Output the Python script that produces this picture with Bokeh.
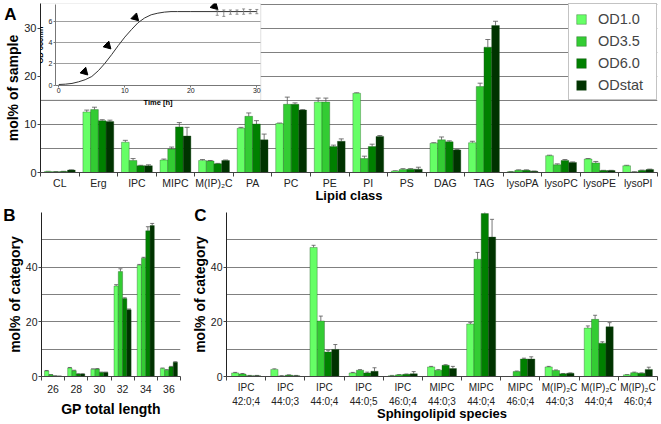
from bokeh.plotting import figure
from bokeh.layouts import column, row
from bokeh.models import (Range1d, FixedTicker, LinearAxis, Legend, LegendItem,
                          Whisker, TeeHead, ColumnDataSource, BoxAnnotation, Grid)
from bokeh.core.properties import value
from bokeh.embed import file_html
from bokeh.resources import INLINE

FONT = "Liberation Sans"

# ---------------- data ----------------
series_names = ["OD1.0", "OD3.5", "OD6.0", "ODstat"]
series_colors = ["#66ff66", "#33cc33", "#008000", "#003300"]

lipid_classes = ["CL", "Erg", "IPC", "MIPC", "M(IP)\u2082C", "PA", "PC", "PE", "PI", "PS",
                 "DAG", "TAG", "lysoPA", "lysoPC", "lysoPE", "lysoPI"]
lipid_od10 = [0.2, 12.6, 6.3, 2.6, 2.5, 9.2, 10.2, 14.7, 16.5, 0.3, 6.1, 6.2, 0.15, 3.5, 2.8, 1.4]
lipid_od35 = [0.15, 13.1, 2.5, 4.9, 2.4, 11.7, 14.2, 14.7, 2.9, 0.6, 6.8, 17.9, 0.45, 1.6, 2.0, 0.1]
lipid_od60 = [0.2, 10.8, 1.4, 9.5, 1.8, 10.1, 14.2, 5.4, 5.4, 0.7, 6.4, 26.1, 0.45, 2.5, 0.4, 0.4]
lipid_odst = [0.5, 10.6, 1.4, 7.6, 2.5, 6.8, 13.0, 6.5, 7.5, 0.7, 4.7, 30.6, 0.25, 2.1, 0.4, 0.6]
lipid_err10 = [0.05, 0.4, 0.4, 0.2, 0.2, 0.2, 0.1, 0.8, 0.1, 0.05, 0.1, 0.3, 0.05, 0.1, 0.1, 0.1]
lipid_err35 = [0.05, 0.5, 0.4, 0.4, 0.1, 0.7, 1.5, 0.8, 0.5, 0.2, 0.6, 0.7, 0.1, 0.2, 0.3, 0.05]
lipid_err60 = [0.05, 0.2, 0.1, 0.9, 0.1, 0.7, 0.3, 0.3, 0.5, 0.1, 0.2, 1.6, 0.1, 0.2, 0.05, 0.1]
lipid_errst = [0.05, 0.3, 0.2, 1.8, 0.1, 1.2, 0.1, 0.5, 0.2, 0.4, 0.1, 0.9, 0.05, 0.1, 0.05, 0.1]

gp_lengths = ["26", "28", "30", "32", "34", "36"]
gp_od10 = [2.0, 3.1, 2.6, 33.1, 40.7, 2.9]
gp_od35 = [0.6, 2.1, 2.7, 38.4, 43.3, 2.3]
gp_od60 = [0.2, 0.9, 1.5, 28.5, 53.3, 3.5]
gp_odst = [0.1, 0.9, 1.5, 24.4, 55.2, 5.2]
gp_err10 = [0.2, 0.2, 0.2, 0.5, 0.3, 0.2]
gp_err35 = [0.1, 0.2, 0.2, 1.0, 0.3, 0.2]
gp_err60 = [0.05, 0.1, 0.1, 0.3, 1.5, 0.2]
gp_errst = [0.05, 0.1, 0.1, 0.3, 0.8, 0.2]

sl_species = ["IPC\n42:0;4", "IPC\n44:0;3", "IPC\n44:0;4", "IPC\n44:0;5", "IPC\n46:0;4",
              "MIPC\n44:0;3", "MIPC\n44:0;4", "MIPC\n46:0;4",
              "M(IP)\u2082C\n44:0;3", "M(IP)\u2082C\n44:0;4", "M(IP)\u2082C\n46:0;4"]
sl_od10 = [1.3, 2.6, 47.2, 1.3, 0.3, 3.5, 19.2, 0.0, 3.5, 17.7, 0.6]
sl_od35 = [0.9, 0.2, 20.3, 2.3, 0.6, 2.3, 42.9, 1.8, 2.2, 20.9, 1.4]
sl_od60 = [0.3, 0.5, 9.0, 1.3, 0.8, 4.1, 59.6, 6.4, 1.0, 12.2, 1.2]
sl_odst = [0.3, 0.3, 9.9, 1.9, 1.0, 2.9, 51.0, 6.4, 1.2, 18.2, 2.6]
sl_err10 = [0.2, 0.2, 0.8, 0.2, 0.1, 0.2, 0.5, 0.0, 0.2, 0.8, 0.1]
sl_err35 = [0.2, 0.1, 1.8, 0.2, 0.1, 0.2, 2.5, 0.2, 0.2, 1.5, 0.2]
sl_err60 = [0.1, 0.1, 0.6, 0.3, 0.1, 0.2, 1.0, 0.3, 0.1, 0.5, 0.1]
sl_errst = [0.1, 0.1, 1.8, 1.3, 0.8, 0.8, 6.5, 0.8, 0.1, 1.5, 0.8]

# growth curve (inset)
growth_time = [0, 1, 2, 3, 4, 5, 6, 7, 8, 9, 10, 11, 12, 13, 14, 15, 16, 17, 18, 20, 22, 24, 26, 28, 30]
growth_od = [0.05, 0.08, 0.15, 0.3, 0.5, 0.8, 1.35, 2.05, 2.85, 3.7, 4.5, 5.2, 5.85, 6.3, 6.6,
             6.75, 6.85, 6.9, 6.9, 6.9, 6.9, 6.9, 6.9, 6.9, 6.9]
stat_time = [24, 25, 26, 27, 28, 29, 30]
stat_od = [6.8, 6.75, 6.85, 6.85, 6.9, 6.9, 6.9]
stat_err = [0.25, 0.3, 0.2, 0.2, 0.25, 0.2, 0.2]
harvest_time = [3.9, 7.4, 11.6, 23.6]
harvest_od = [1.25, 3.7, 6.35, 7.4]
inset_xticks = [0, 10, 20, 30]
inset_yticks = [0, 2, 4, 6]
inset_grid = [2, 4, 6]

GRID = "#808080"
AX = "#444444"


def make_panel(width, height, labels, ymax, yticks, gridticks, borders,
               xtick_fs, ytick_fs, xtitle, ytitle, xtitle_fs, ytitle_fs,
               xs, xt, ys, yt, x_line_height=1.2):
    n = len(labels)
    p = figure(width=width, height=height, x_range=Range1d(-0.5, n - 0.5),
               y_range=Range1d(0, ymax), output_backend="svg", toolbar_location=None,
               min_border_left=borders[0], min_border_right=borders[1],
               min_border_top=borders[2], min_border_bottom=borders[3])
    p.outline_line_color = None
    p.xgrid.visible = False
    p.ygrid.ticker = FixedTicker(ticks=gridticks)
    p.ygrid.grid_line_color = GRID
    p.ygrid.grid_line_width = 1
    xa = p.xaxis[0]
    centers = list(range(n))
    xa.ticker = FixedTicker(ticks=centers, minor_ticks=[c - 0.5 for c in range(n + 1)])
    xa.major_label_overrides = {c: lab for c, lab in zip(centers, labels)}
    xa.major_tick_line_color = None
    xa.major_tick_out = 0
    xa.major_tick_in = 0
    xa.minor_tick_out = 4
    xa.minor_tick_in = 0
    xa.minor_tick_line_color = AX
    xa.axis_line_color = AX
    xa.major_label_text_font = FONT
    xa.major_label_text_font_size = xtick_fs
    xa.major_label_text_line_height = x_line_height
    xa.major_label_text_color = "#222222"
    xa.major_label_standoff = xs
    xa.axis_label = xtitle
    xa.axis_label_text_font = FONT
    xa.axis_label_text_font_style = "bold"
    xa.axis_label_text_font_size = xtitle_fs
    xa.axis_label_text_color = "black"
    xa.axis_label_standoff = xt
    ya = p.yaxis[0]
    ya.ticker = FixedTicker(ticks=yticks)
    ya.minor_tick_line_color = None
    ya.major_tick_out = 3
    ya.major_tick_in = 0
    ya.major_tick_line_color = AX
    ya.axis_line_color = "#222222"
    ya.major_label_text_font = FONT
    ya.major_label_text_font_size = ytick_fs
    ya.major_label_text_color = "#222222"
    ya.major_label_standoff = ys
    ya.axis_label = ytitle
    ya.axis_label_text_font = FONT
    ya.axis_label_text_font_style = "bold"
    ya.axis_label_text_font_size = ytitle_fs
    ya.axis_label_text_color = "black"
    ya.axis_label_standoff = yt
    return p


def add_bars(p, groups, errs, width, head):
    n = len(groups[0])
    rs = []
    for k, (vals, err) in enumerate(zip(groups, errs)):
        xs = [i + (k - 1.5) * width for i in range(n)]
        src = ColumnDataSource(dict(x=xs, top=vals,
                                    upper=[v + e for v, e in zip(vals, err)],
                                    lower=list(vals)))
        w = Whisker(base="x", upper="upper", lower="lower", source=src,
                    line_color="#555555", line_width=0.8, lower_head=None,
                    upper_head=TeeHead(size=head, line_color="#555555", line_width=0.8))
        p.add_layout(w)
        r = p.vbar(x="x", top="top", bottom=0, width=width, source=src,
                   fill_color=series_colors[k], line_color="#1f4f1f", line_width=0.5,
                   line_alpha=0.7)
        rs.append(r)
    return rs


def panel_letter(p, text, ypos, standoff):
    # panel letter: sole label of an extra left axis stacked outside the y-axis title
    ax = LinearAxis(ticker=FixedTicker(ticks=[ypos]), major_label_overrides={ypos: text},
                    axis_line_color=None, major_tick_line_color=None,
                    minor_tick_line_color=None, major_tick_out=0, major_tick_in=0,
                    major_label_standoff=standoff, major_label_text_font=FONT,
                    major_label_text_font_style="bold", major_label_text_font_size="17px",
                    major_label_text_color="black")
    p.add_layout(ax, "left")


# ---------------- panel A ----------------
pA = make_panel(661, 205, lipid_classes, 35.2, [0, 10, 20, 30], [5, 10, 15, 20, 25, 30, 35],
                (40, 4, 3, 32), "10.5px", "11px", "Lipid class", "mol% of sample",
                "13px", "14px", 0, -4, 1, 0)

# inset (growth curve), drawn on its own ranges
pA.extra_x_ranges = {"time": Range1d(-2.77, 90.7)}
pA.extra_y_ranges = {"od": Range1d(-8.22, 7.66)}
pA.add_layout(BoxAnnotation(left=-2.77, right=30.6, bottom=-1.4, top=7.66,
                            x_range_name="time", y_range_name="od",
                            fill_color="white", fill_alpha=1.0,
                            line_color="#999999", line_width=1, level="underlay"))
if "cross_bounds" in Grid.properties():
    g = Grid(dimension=1, ticker=FixedTicker(ticks=inset_grid), x_range_name="time",
             y_range_name="od", cross_bounds=(-0.5, 30.6), grid_line_color="#a0a0a0",
             grid_line_width=1)
    pA.add_layout(g)
else:
    pA.segment(x0=[-0.5] * len(inset_grid), x1=[30.6] * len(inset_grid), y0=inset_grid,
               y1=inset_grid, x_range_name="time", y_range_name="od",
               line_color="#a0a0a0", line_width=1)

rA = add_bars(pA, [lipid_od10, lipid_od35, lipid_od60, lipid_odst],
              [lipid_err10, lipid_err35, lipid_err60, lipid_errst], 0.2, 5)

ax_t = LinearAxis(x_range_name="time", y_range_name="od", fixed_location=0,
                  bounds=(-0.5, 30.6), ticker=FixedTicker(ticks=inset_xticks),
                  axis_label="Time [h]")
ax_od = LinearAxis(x_range_name="time", y_range_name="od", fixed_location=-0.5,
                   bounds=(0, 7.6), ticker=FixedTicker(ticks=inset_yticks),
                   axis_label="OD 600nm")
for ax in (ax_t, ax_od):
    ax.axis_line_color = "#777777"
    ax.major_tick_line_color = "#777777"
    ax.major_tick_out = 2
    ax.major_tick_in = 0
    ax.minor_tick_line_color = None
    ax.major_label_text_font = FONT
    ax.major_label_text_font_size = "7px"
    ax.major_label_text_color = "#222222"
    ax.major_label_standoff = 1
    ax.axis_label_text_font = FONT
    ax.axis_label_text_font_size = "7.5px"
    ax.axis_label_text_font_style = "bold"
    ax.axis_label_text_color = "black"
    ax.axis_label_standoff = 1
pA.add_layout(ax_t, "below")
pA.add_layout(ax_od, "left")

pA.line(growth_time, growth_od, x_range_name="time", y_range_name="od",
        line_color="#333333", line_width=1)
stat_src = ColumnDataSource(dict(t=stat_time,
                                 up=[v + e for v, e in zip(stat_od, stat_err)],
                                 lo=[v - e for v, e in zip(stat_od, stat_err)]))
pA.add_layout(Whisker(base="t", upper="up", lower="lo", source=stat_src,
                      x_range_name="time", y_range_name="od", level="glyph",
                      line_color="#666666", line_width=0.7,
                      upper_head=TeeHead(size=3, line_color="#666666", line_width=0.7),
                      lower_head=TeeHead(size=3, line_color="#666666", line_width=0.7)))
pA.scatter(harvest_time, harvest_od, x_range_name="time", y_range_name="od",
           marker="triangle", size=8, angle=-2.356, fill_color="black", line_color="black")

legend = Legend(items=[LegendItem(label=value(s), renderers=[r]) for s, r in zip(series_names, rA)],
                location="top_right", margin=0, padding=6, spacing=5,
                label_height=17, label_width=52, glyph_width=12, glyph_height=12,
                label_standoff=11, border_line_color="#888888", border_line_width=1,
                background_fill_color="white", background_fill_alpha=1.0,
                label_text_font=FONT, label_text_font_size="14.5px")
pA.add_layout(legend)
panel_letter(pA, "A", 33, -14)

# ---------------- panel B ----------------
pB = make_panel(188, 219, gp_lengths, 60, [0, 20, 40], [10, 20, 30, 40, 50],
                (40, 8, 7, 48), "10.5px", "10.5px", "GP total length", "mol% of category",
                "14px", "14px", 4, 5, 1, 0)
add_bars(pB, [gp_od10, gp_od35, gp_od60, gp_odst],
         [gp_err10, gp_err35, gp_err60, gp_errst], 0.185, 4)
panel_letter(pB, "B", 59, -12)

# ---------------- panel C ----------------
pC = make_panel(473, 219, sl_species, 60, [0, 20, 40], [10, 20, 30, 40, 50],
                (35, 4, 7, 48), "10px", "10.5px", "Sphingolipid species", "mol% of category",
                "13px", "14px", 1, -4, 1, 0, x_line_height=1.3)
add_bars(pC, [sl_od10, sl_od35, sl_od60, sl_odst],
         [sl_err10, sl_err35, sl_err60, sl_errst], 0.185, 4)
panel_letter(pC, "C", 59, -18)

layout = column(pA, row(pB, pC))
open("out.html", "w").write(file_html(layout, INLINE))
